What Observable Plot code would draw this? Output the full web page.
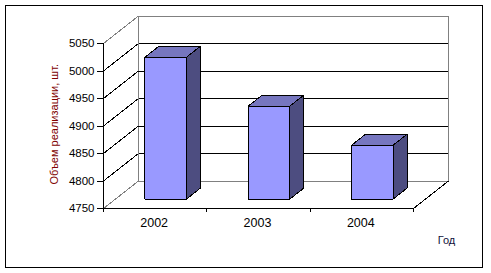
<!DOCTYPE html>
<html>
<head>
<meta charset="utf-8">
<script src="https://cdn.jsdelivr.net/npm/d3@7"></script>
<script src="https://cdn.jsdelivr.net/npm/@observablehq/plot@0.6"></script>
<style>
  html, body { margin: 0; padding: 0; background: #fff; }
  #wrap { position: relative; width: 491px; height: 273px; overflow: hidden; }
  #border { position: absolute; left: 5px; top: 5px; width: 478px; height: 263px; box-sizing: border-box; border: 1px solid #000; pointer-events: none; }
  #chart { position: absolute; left: 0; top: 0; }
  #chart svg line, #chart svg path { shape-rendering: crispEdges; }
</style>
</head>
<body>
<div id="wrap"><div id="chart"></div><div id="border"></div></div>
<script>
// ---- data ----
const years = ["2002", "2003", "2004"];
const sales = [5008, 4919, 4848];
const yTicks = [4750, 4800, 4850, 4900, 4950, 5000, 5050];
const yTitle = "Объем реализации, шт.";
const xTitle = "Год";

// ---- 3D look (oblique projection in data units) ----
const base = yTicks[0], topV = yTicks[yTicks.length - 1];
const n = years.length;
const DX = 0.3387, DY = 50;           // depth vector of the box
const A = 0.285, B = 0.687;           // bar left/right within band
const D1 = 0.34, D2 = 0.74;           // bar front/back depth fraction

const polys = {side: [], top: [], front: []};
years.forEach((yr, i) => {
  const v = sales[i];
  const fx1 = i + A + D1 * DX, fx2 = i + B + D1 * DX;
  const bx1 = i + A + D2 * DX, bx2 = i + B + D2 * DX;
  const fb = base + D1 * DY, ft = v + D1 * DY;
  const bb = base + D2 * DY, bt = v + D2 * DY;
  polys.front.push(...[[fx1, fb], [fx2, fb], [fx2, ft], [fx1, ft]].map(([x, y]) => ({id: yr, x, y})));
  polys.top.push(...[[fx1, ft], [fx2, ft], [bx2, bt], [bx1, bt]].map(([x, y]) => ({id: yr, x, y})));
  polys.side.push(...[[fx2, fb], [bx2, bb], [bx2, bt], [fx2, ft]].map(([x, y]) => ({id: yr, x, y})));
});

const inner = yTicks.slice(1, -1);
const edge = [base, topV];

const font = "'Liberation Sans', Arial, sans-serif";

const chart = Plot.plot({
  width: 491,
  height: 273,
  marginLeft: 103,
  marginRight: 43,
  marginTop: 15.5,
  marginBottom: 65,
  style: {fontFamily: font, fontSize: "11.5px", background: "transparent", color: "#000"},
  x: {type: "linear", domain: [0, n + DX], axis: null},
  y: {type: "linear", domain: [base, topV + DY], axis: null},
  marks: [
    // back wall gridlines
    Plot.link(inner, {x1: DX, x2: n + DX, y1: d => d + DY, y2: d => d + DY, stroke: "#000", strokeWidth: 1}),
    // back wall border (gray)
    Plot.link(edge, {x1: DX, x2: n + DX, y1: d => d + DY, y2: d => d + DY, stroke: "#808080", strokeWidth: 1}),
    Plot.link([DX, n + DX], {x1: d => d, x2: d => d, y1: base + DY, y2: topV + DY, stroke: "#808080", strokeWidth: 1}),
    // side wall diagonals
    Plot.link(inner, {x1: 0, x2: DX, y1: d => d, y2: d => d + DY, stroke: "#000", strokeWidth: 1}),
    Plot.link(edge, {x1: 0, x2: DX, y1: d => d, y2: d => d + DY, stroke: "#808080", strokeWidth: 1}),
    // floor right diagonal
    Plot.link([base], {x1: n, x2: n + DX, y1: d => d, y2: d => d + DY, stroke: "#000", strokeWidth: 1}),
    // floor front edge (x axis line)
    Plot.ruleY([base], {x1: 0, x2: n, stroke: "#000", strokeWidth: 1}),
    // y axis line
    Plot.ruleX([0], {y1: base, y2: topV, stroke: "#000", strokeWidth: 1}),
    // bars
    Plot.line(polys.side, {x: "x", y: "y", z: "id", curve: "linear-closed", fill: "#4d4d80", stroke: "#000", strokeWidth: 1, strokeLinejoin: "miter"}),
    Plot.line(polys.top, {x: "x", y: "y", z: "id", curve: "linear-closed", fill: "#7676bf", stroke: "#000", strokeWidth: 1, strokeLinejoin: "miter"}),
    Plot.line(polys.front, {x: "x", y: "y", z: "id", curve: "linear-closed", fill: "#9999ff", stroke: "#000", strokeWidth: 1, strokeLinejoin: "miter"}),
    // axes
    Plot.axisY({ticks: yTicks, tickSize: 6, tickPadding: 3, tickFormat: d3.format("d"), label: null, fontSize: 11.5, fill: "#000"}),
    Plot.axisX({ticks: d3.range(n + 1), tickSize: 4, tickFormat: () => "", label: null}),
    Plot.text(years, {x: (d, i) => i + 0.49, y: base, dy: 14, text: d => d, fontSize: 12.5, fill: "#000"}),
    // titles
    Plot.text([yTitle], {frameAnchor: "left", dx: -49, dy: 12, rotate: -90, textAnchor: "middle", fontSize: 11, fill: "#800000"}),
    Plot.text([xTitle], {frameAnchor: "bottom-right", dx: -2, dy: 35, textAnchor: "middle", fontSize: 11, fill: "#10103a"})
  ]
});
document.getElementById("chart").appendChild(chart);
</script>
</body>
</html>
